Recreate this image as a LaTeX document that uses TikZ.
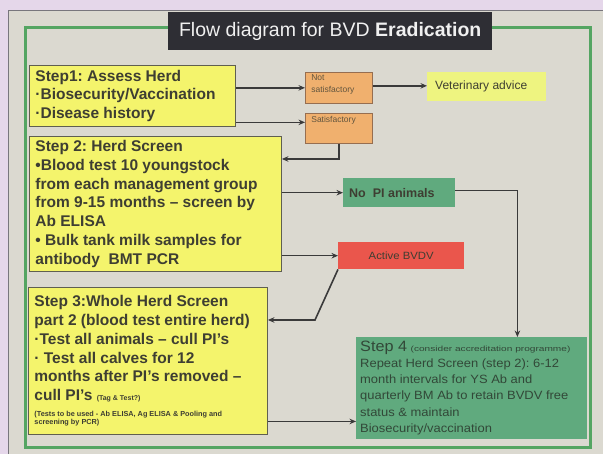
\documentclass[tikz,border=0pt]{standalone}
\usepackage{fontspec}
\setmainfont{Liberation Sans}
\newfontfamily\widefont[FakeStretch=1.08]{Liberation Sans}
\newfontfamily\xwidefont[FakeStretch=1.35]{Liberation Sans}
\usetikzlibrary{arrows.meta}
\frenchspacing
\definecolor{lav}{RGB}{229,215,234}
\definecolor{panel}{RGB}{219,217,208}
\definecolor{panelline}{RGB}{120,118,125}
\definecolor{frame}{RGB}{84,165,98}
\definecolor{ttl}{RGB}{46,46,52}
\definecolor{yel}{RGB}{244,244,108}
\definecolor{vety}{RGB}{238,244,128}
\definecolor{org}{RGB}{240,176,110}
\definecolor{orgline}{RGB}{150,110,80}
\definecolor{grn}{RGB}{96,170,126}
\definecolor{redb}{RGB}{234,86,76}
\definecolor{boxline}{RGB}{95,95,80}
\definecolor{txt}{RGB}{62,62,50}
\definecolor{gtxt}{RGB}{50,72,56}
\definecolor{arrc}{RGB}{58,58,58}
\begin{document}
\begin{tikzpicture}[x=1pt,y=-1pt,
  ybox/.style={draw=boxline, line width=0.9pt, fill=yel, anchor=north west, align=flush left,
    inner xsep=6pt, inner ysep=0pt, text=txt, font=\frenchspacing\fontsize{15.5}{18.8}\selectfont\bfseries},
  obox/.style={draw=orgline, line width=0.7pt, fill=org, anchor=north west, align=flush left,
    inner xsep=6pt, inner ysep=2pt, text=txt!80!org, minimum width=67pt, text width=55pt,
    font=\fontsize{8.5}{12}\selectfont},
  arr/.style={draw=arrc, line width=1.6pt, -{Stealth[length=6.5pt,width=5.5pt]}}]
\useasboundingbox (0,0) rectangle (603,454);
\clip (0,0) rectangle (603,454);
\fill[lav] (0,0) rectangle (603,454);
\filldraw[fill=panel, draw=panelline, line width=0.8pt] (8,10) rectangle (610,460);
\draw[frame, line width=3pt] (25,28) rectangle (590,448);

\node[fill=ttl, text=white!94!black, anchor=north west, minimum width=324pt, minimum height=38pt,
  inner sep=0pt, font=\fontsize{19.5}{20}\selectfont] (title) at (168,12)
  {Flow diagram for BVD \textbf{Eradication}};

\node[ybox, minimum width=206pt, minimum height=61pt, text width=194pt] (s1) at (29,65)
  {Step1: Assess Herd\\
   ·Biosecurity/Vaccination\\
   ·Disease history};

\node[ybox, minimum width=252pt, minimum height=135pt, text width=240pt] (s2) at (29,136)
  {Step 2: Herd Screen\\
   •Blood test 10 youngstock\\
   from each management group\\
   from 9-15 months – screen by\\
   Ab ELISA\\
   • Bulk tank milk samples for\\
   antibody\ \ BMT PCR};

\node[ybox, minimum width=239pt, minimum height=147pt, text width=227pt] (s3) at (28,287)
  {Step 3:Whole Herd Screen\\
   part 2 (blood test entire herd)\\
   ·Test all animals – cull PI’s\\
   · Test all calves for 12\\
   months after PI’s removed –\\
   cull PI’s {\fontsize{7}{8}\selectfont (Tag \& Test?)}\\[-3pt]
   {\fontsize{7.3}{8}\selectfont (Tests to be used - Ab ELISA, Ag ELISA \& Pooling and}\\[-10.5pt]
   {\fontsize{7.3}{8}\selectfont screening by PCR)}};

\node[fill=grn, anchor=north west, align=flush left, minimum width=231pt, minimum height=102pt,
  text width=223pt, inner xsep=4pt, inner ysep=0pt, text=gtxt,
  font=\widefont\fontsize{12}{16.4}\selectfont] (s4) at (356,337)
  {{\fontsize{15}{16}\selectfont Step 4} {\xwidefont\fontsize{7.5}{8}\selectfont (consider accreditation programme)}\\[-1pt]
   Repeat Herd Screen (step 2): 6-12\\
   month intervals for YS Ab and\\
   quarterly BM Ab to retain BVDV free\\
   status \& maintain\\
   Biosecurity/vaccination};

\node[obox, minimum height=31pt, text height=6pt, text depth=21pt] (ns) at (305,72)
  {Not\\satisfactory};
\node[obox, minimum height=30pt, text height=7pt, text depth=19pt] (sat) at (305,113)
  {Satisfactory};

\node[fill=vety, anchor=north west, align=flush left, minimum width=119pt, minimum height=29pt,
  text width=103pt, inner xsep=8pt, inner ysep=0pt, text=txt,
  font=\fontsize{12}{14}\selectfont] (vet) at (427,72) {Veterinary advice};

\node[fill=grn, anchor=north west, align=flush left, minimum width=112pt, minimum height=29pt,
  text width=100pt, inner xsep=6pt, inner ysep=0pt, text=txt,
  font=\fontsize{12.5}{14}\selectfont\bfseries] (nopi) at (343,178) {No\ \ PI animals};

\node[fill=redb, anchor=north west, minimum width=126pt, minimum height=27pt,
  inner sep=0pt, text=txt, font=\widefont\fontsize{10.5}{12}\selectfont] (act) at (338,242)
  {Active BVDV};

% connectors
\draw[arr] (s1.east |- ns.west) -- (ns.west);
\coordinate (a1) at ([yshift=6pt]sat.west);
\draw[arr] (s1.east |- a1) -- (a1);
\draw[arr] ([yshift=2pt]ns.east) -- ([yshift=2pt]ns.east -| vet.west);
\coordinate (a2) at ([yshift=-23pt]s2.north east);
\draw[arr] (sat.south) |- (a2);
\draw[arr] (s2.east |- nopi.west) -- (nopi.west);
\coordinate (a3) at ([xshift=-70pt]s4.north east);
\draw[arr] ([yshift=2pt]nopi.east) -| (a3);
\draw[arr] (s2.east |- act.west) -- (act.west);
\coordinate (bend) at (315,320);
\draw[arr] (act.south west) -- (bend) -- (bend -| s3.east);
\coordinate (c3) at ([yshift=-60.5pt]s3.east);
\draw[arr] (c3) -- (c3 -| s4.west);
\end{tikzpicture}
\end{document}
